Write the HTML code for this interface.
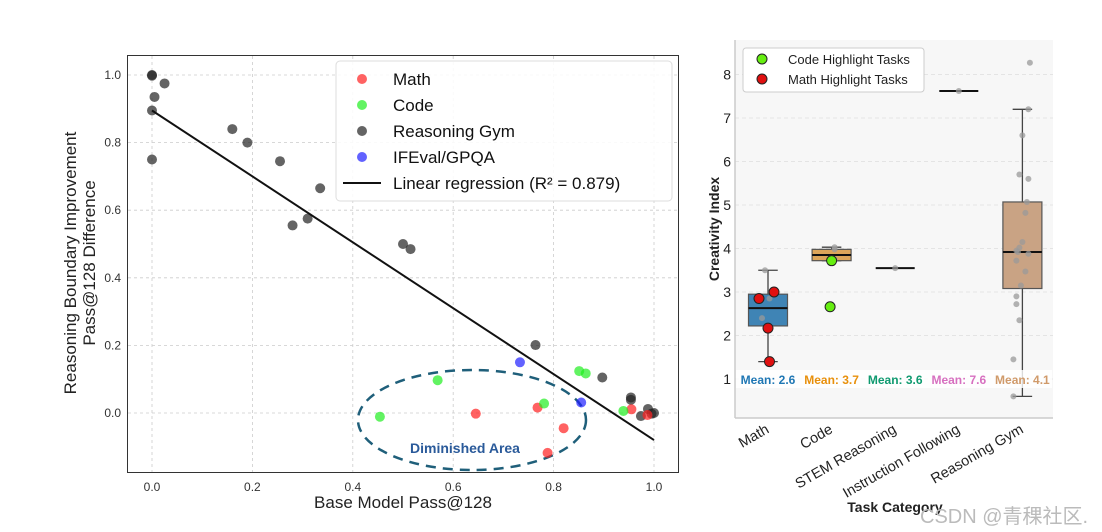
<!DOCTYPE html>
<html><head><meta charset="utf-8"><style>
body{margin:0;background:#fff;font-family:"Liberation Sans","DejaVu Sans",sans-serif}
svg{display:block}
</style></head><body>
<svg id="c" width="1102" height="532" xmlns="http://www.w3.org/2000/svg"></svg>
<script>
// ---- left scatter data ----
const gymX=[0,0,0.005,0.025,0,0,0.16,0.19,0.255,0.28,0.31,0.335,0.5,0.515,0.764,0.897,0.954,0.954,0.974,0.988,1.0,0.995];
const gymY=[1.0,0.998,0.935,0.975,0.895,0.75,0.84,0.80,0.745,0.555,0.575,0.665,0.50,0.485,0.201,0.105,0.046,0.039,-0.009,0.012,0.0,-0.002];
const mathX=[0.645,0.768,0.820,0.788,0.955,0.987];
const mathY=[-0.002,0.016,-0.045,-0.118,0.011,-0.006];
const codeX=[0.454,0.569,0.781,0.851,0.864,0.939];
const codeY=[-0.011,0.097,0.028,0.124,0.117,0.006];
const ifX=[0.733,0.855];
const ifY=[0.150,0.031];
const regSlope=-0.975, regIntercept=0.895;
const xTicks=[0.0,0.2,0.4,0.6,0.8,1.0];
const yTicks=[0.0,0.2,0.4,0.6,0.8,1.0];
// ---- right box data ----
const cats=["Math","Code","STEM Reasoning","Instruction Following","Reasoning Gym"];
const q1=[2.22,3.72,3.55,7.62,3.08];
const q3=[2.95,3.98,3.55,7.62,5.07];
const med=[2.63,3.85,3.55,7.62,3.92];
const wLo=[1.4,3.72,3.55,7.62,0.6];
const wHi=[3.5,4.03,3.55,7.62,7.2];
const means=["2.6","3.7","3.6","7.6","4.1"];
const grayPts=[[0,3.5],[0,3.0],[0,2.4],[0,2.85],[0,1.4],[1,4.03],[1,3.98],[1,3.75],[2,3.55],[3,7.62],
[4,8.27],[4,7.2],[4,6.6],[4,5.7],[4,5.6],[4,5.07],[4,4.82],[4,4.15],[4,4.02],[4,3.95],[4,3.92],[4,3.88],[4,3.72],[4,3.47],[4,3.15],[4,2.9],[4,2.72],[4,2.35],[4,1.45],[4,0.6]];
const grayJit=[-0.1,0.1,-0.2,0.05,0,0.1,0.1,0.1,0,0,0.25,0.2,0,-0.1,0.2,0.15,0.1,0,-0.1,-0.2,-0.15,0.2,-0.2,0.1,-0.05,-0.2,-0.2,-0.1,-0.3,-0.3];
const codeHi=[3.72,2.66], codeHiJ=[0,-0.05];
const mathHi=[2.85,3.0,2.17,1.4], mathHiJ=[-0.3,0.2,0,0.05];
const yTicksR=[1,2,3,4,5,6,7,8];

const S=document.getElementById('c'),NS="http://www.w3.org/2000/svg";
function el(t,a,p){const e=document.createElementNS(NS,t);for(const k in a)e.setAttribute(k,a[k]);(p||S).appendChild(e);return e;}
function txt(s,a,p){const e=el('text',a,p);e.textContent=s;return e;}

// left axes
const X=v=>152+v*502, Y=v=>413-v*338;
const L=el('g',{});


xTicks.forEach(t=>{
 const g=el('line',{x1:X(t),x2:X(t),y1:56,y2:472,stroke:'#ccc','stroke-dasharray':'3,3','stroke-width':0.8},L);
 
 const tl=txt(t.toFixed(1),{x:X(t),y:491,'font-size':12,'text-anchor':'middle',fill:'#333'},L);
 
});
yTicks.forEach(t=>{
 const g=el('line',{x1:128,x2:678,y1:Y(t),y2:Y(t),stroke:'#ccc','stroke-dasharray':'3,3','stroke-width':0.8},L);
 
 const tl=txt(t.toFixed(1),{x:121,y:Y(t)+4,'font-size':12,'text-anchor':'end',fill:'#333'},L);
 
});
const fr=el('rect',{x:127.5,y:55.5,width:551,height:417,fill:'none',stroke:'#333','stroke-width':1},L);

const ell=el('ellipse',{cx:472,cy:420,rx:114,ry:50,fill:'none',stroke:'#1f5f7a','stroke-width':2.5,'stroke-dasharray':'10,7'},L);

const da=txt('Diminished Area',{x:465,y:453,'font-size':14,'font-weight':'bold','text-anchor':'middle',fill:'#2a5a9a'},L);

function pts(xs,ys,col,name){xs.forEach((x,i)=>{const c=el('circle',{cx:X(x),cy:Y(ys[i]),r:5,fill:col,'fill-opacity':0.7},L);
 });}
pts(gymX,gymY,'#222','reasoning-gym-point');
pts(mathX,mathY,'#ff2020','math-point');
pts(codeX,codeY,'#20ee20','code-point');
pts(ifX,ifY,'#2020ff','ifeval-point');
const rl=el('line',{x1:X(0),y1:Y(regIntercept),x2:X(1),y2:Y(regIntercept+regSlope),stroke:'#111','stroke-width':2},L);

const lg=el('g',{},L);
el('rect',{x:336,y:61,width:336,height:140,rx:4,fill:'#fff','fill-opacity':0.85,stroke:'#ddd'},lg);
[['Math','#ff2020'],['Code','#20ee20'],['Reasoning Gym','#222'],['IFEval/GPQA','#2020ff']].forEach((e,i)=>{
 const y=79+i*26;
 el('circle',{cx:362,cy:y,r:5,fill:e[1],'fill-opacity':0.7},lg);
 const t=txt(e[0],{x:393,y:y+6,'font-size':17,fill:'#111'},lg);
 
});
el('line',{x1:343,x2:381,y1:183,y2:183,stroke:'#111','stroke-width':2},lg);
const lr=txt('Linear regression (R² = 0.879)',{x:393,y:189,'font-size':17,fill:'#111'},lg);

const xt=txt('Base Model Pass@128',{x:403,y:508,'font-size':17,'text-anchor':'middle',fill:'#222'},L);

const yt=el('text',{transform:'translate(76,263) rotate(-90)','font-size':17,'text-anchor':'middle',fill:'#222'},L);

el('tspan',{x:0,y:0},yt).textContent='Reasoning Boundary Improvement';
el('tspan',{x:0,y:19},yt).textContent='Pass@128 Difference';

// right chart
const R=el('g',{});
const CX=i=>768+i*63.6, RY=v=>379-(v-1)*43.5;
const bg=el('rect',{x:735,y:40,width:318,height:378,fill:'#f7f7f7'},R);

yTicksR.forEach(t=>{
 el('line',{x1:735,x2:1053,y1:RY(t),y2:RY(t),stroke:'#e4e4e4','stroke-dasharray':'4,3'},R);
 const tl=txt(String(t),{x:731,y:RY(t)+5,'font-size':14,'text-anchor':'end',fill:'#222'},R);
 
});
el('line',{x1:735,x2:735,y1:40,y2:418,stroke:'#ccc','stroke-width':1.5},R);
el('line',{x1:735,x2:1053,y1:418,y2:418,stroke:'#ccc','stroke-width':1.5},R);
const boxCols=['#3f84b5','#dca55a','#2aa07a','#d770c0','#c9a384'];
const meanCols=['#1f77b4','#e8900c','#109a70','#d770c0','#d09a6a'];
const bw=39;
cats.forEach((c,i)=>{
 const x=CX(i);
 const g=el('g',{},R);
 if(q3[i]>q1[i]){
  el('line',{x1:x,x2:x,y1:RY(wHi[i]),y2:RY(q3[i]),stroke:'#444','stroke-width':1.3},g);
  el('line',{x1:x,x2:x,y1:RY(q1[i]),y2:RY(wLo[i]),stroke:'#444','stroke-width':1.3},g);
  el('line',{x1:x-bw/4,x2:x+bw/4,y1:RY(wHi[i]),y2:RY(wHi[i]),stroke:'#444','stroke-width':1.3},g);
  el('line',{x1:x-bw/4,x2:x+bw/4,y1:RY(wLo[i]),y2:RY(wLo[i]),stroke:'#444','stroke-width':1.3},g);
  el('rect',{x:x-bw/2,y:RY(q3[i]),width:bw,height:RY(q1[i])-RY(q3[i]),fill:boxCols[i],stroke:'#555','stroke-width':1.2},g);
 }
 el('line',{x1:x-bw/2,x2:x+bw/2,y1:RY(med[i]),y2:RY(med[i]),stroke:'#111','stroke-width':2},g);
 const tl=txt(c,{transform:`translate(${x+2},${432}) rotate(-30)`,'font-size':14.5,'text-anchor':'end',fill:'#222'},R);
 
});
grayPts.forEach((p,k)=>{const c=el('circle',{cx:CX(p[0])+grayJit[k]*30,cy:RY(p[1]),r:3,fill:'#999','fill-opacity':0.75},R);
 });
codeHi.forEach((v,k)=>{const c=el('circle',{cx:CX(1)+codeHiJ[k]*30,cy:RY(v),r:5,fill:'#66ee11',stroke:'#222'},R);
 });
mathHi.forEach((v,k)=>{const c=el('circle',{cx:CX(0)+mathHiJ[k]*30,cy:RY(v),r:5,fill:'#e01010',stroke:'#222'},R);
 });
el('rect',{x:736,y:370,width:316,height:18,fill:'#fff','fill-opacity':0.8},R);
means.forEach((m,i)=>{const t=txt('Mean: '+m,{x:CX(i),y:384,'font-size':12,'font-weight':'bold','text-anchor':'middle',fill:meanCols[i]},R);
 });
const rlg=el('g',{},R);
el('rect',{x:743,y:48,width:181,height:44,rx:3,fill:'#fff',stroke:'#ccc'},rlg);
el('circle',{cx:762,cy:59,r:5,fill:'#66ee11',stroke:'#222'},rlg);
el('circle',{cx:762,cy:79,r:5,fill:'#e01010',stroke:'#222'},rlg);
const l1=txt('Code Highlight Tasks',{x:788,y:64,'font-size':13,fill:'#222'},rlg);
const l2=txt('Math Highlight Tasks',{x:788,y:84,'font-size':13,fill:'#222'},rlg);
const ryt=txt('Creativity Index',{transform:'translate(719,229) rotate(-90)','font-size':14,'font-weight':'bold','text-anchor':'middle',fill:'#222'},R);

const rxt=txt('Task Category',{x:895,y:512,'font-size':14,'font-weight':'bold','text-anchor':'middle',fill:'#222'},R);

const wm=txt('CSDN @青稞社区.',{x:920,y:523,'font-size':20,fill:'#bbb','font-family':'"Liberation Sans","Noto Sans CJK SC",sans-serif'},R);

</script>
</body></html>
